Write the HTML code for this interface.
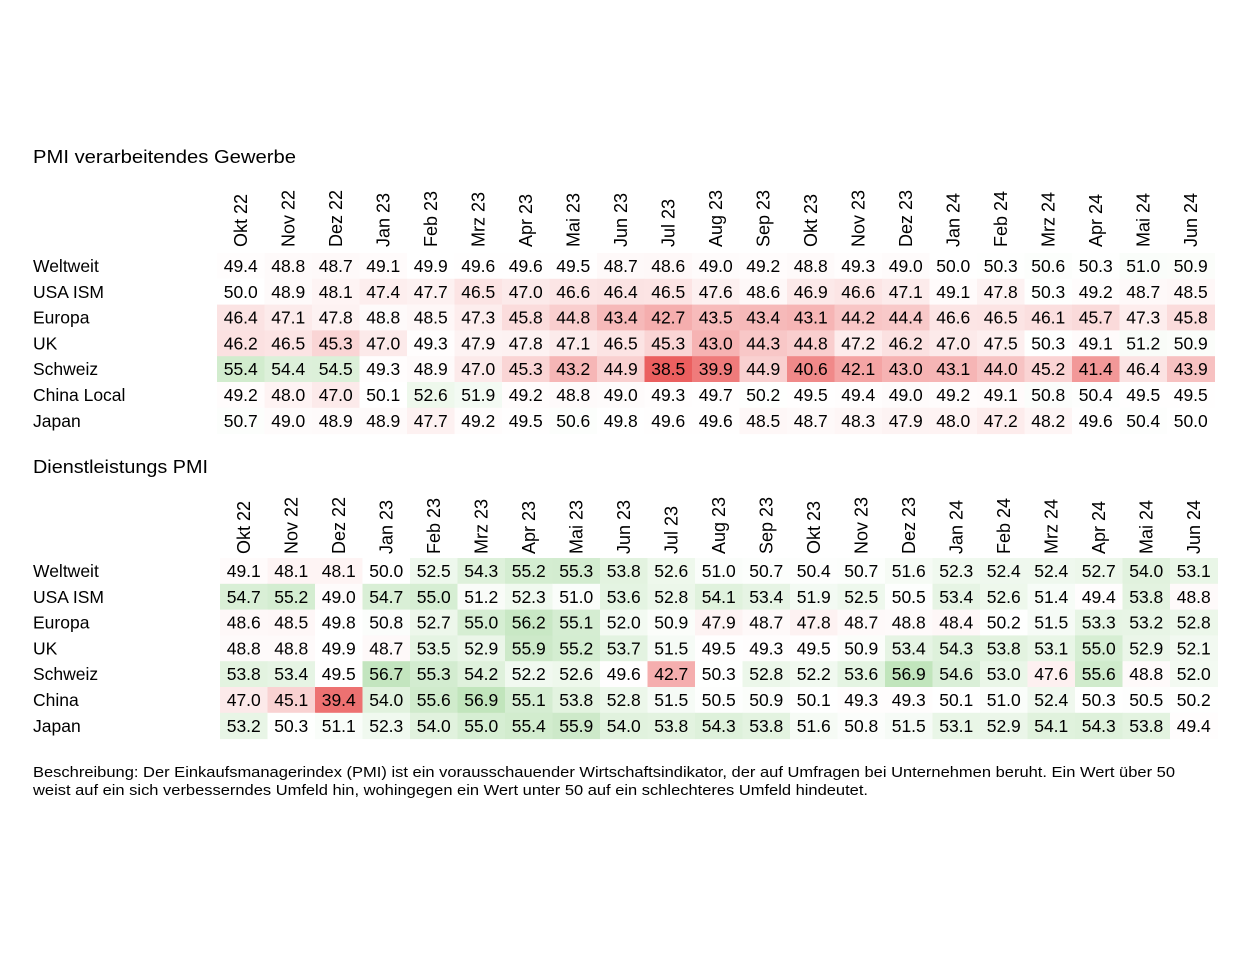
<!DOCTYPE html>
<html><head><meta charset="utf-8"><style>
body{margin:0;background:#fff;width:1249px;height:949px;overflow:hidden;font-family:"Liberation Sans",sans-serif;color:#1a1a1a}
svg text{font-family:"Liberation Sans",sans-serif}
</style></head><body>
<svg id="c" width="1249" height="949"></svg>
<script>
const months=["Okt 22","Nov 22","Dez 22","Jan 23","Feb 23","Mrz 23","Apr 23","Mai 23","Jun 23","Jul 23","Aug 23","Sep 23","Okt 23","Nov 23","Dez 23","Jan 24","Feb 24","Mrz 24","Apr 24","Mai 24","Jun 24"];
const mfgRegions=["Weltweit","USA ISM","Europa","UK","Schweiz","China Local","Japan"];
const mfgWeltweit=[49.4,48.8,48.7,49.1,49.9,49.6,49.6,49.5,48.7,48.6,49.0,49.2,48.8,49.3,49.0,50.0,50.3,50.6,50.3,51.0,50.9];
const mfgUSA=[50.0,48.9,48.1,47.4,47.7,46.5,47.0,46.6,46.4,46.5,47.6,48.6,46.9,46.6,47.1,49.1,47.8,50.3,49.2,48.7,48.5];
const mfgEuropa=[46.4,47.1,47.8,48.8,48.5,47.3,45.8,44.8,43.4,42.7,43.5,43.4,43.1,44.2,44.4,46.6,46.5,46.1,45.7,47.3,45.8];
const mfgUK=[46.2,46.5,45.3,47.0,49.3,47.9,47.8,47.1,46.5,45.3,43.0,44.3,44.8,47.2,46.2,47.0,47.5,50.3,49.1,51.2,50.9];
const mfgSchweiz=[55.4,54.4,54.5,49.3,48.9,47.0,45.3,43.2,44.9,38.5,39.9,44.9,40.6,42.1,43.0,43.1,44.0,45.2,41.4,46.4,43.9];
const mfgChina=[49.2,48.0,47.0,50.1,52.6,51.9,49.2,48.8,49.0,49.3,49.7,50.2,49.5,49.4,49.0,49.2,49.1,50.8,50.4,49.5,49.5];
const mfgJapan=[50.7,49.0,48.9,48.9,47.7,49.2,49.5,50.6,49.8,49.6,49.6,48.5,48.7,48.3,47.9,48.0,47.2,48.2,49.6,50.4,50.0];
const svcRegions=["Weltweit","USA ISM","Europa","UK","Schweiz","China","Japan"];
const svcWeltweit=[49.1,48.1,48.1,50.0,52.5,54.3,55.2,55.3,53.8,52.6,51.0,50.7,50.4,50.7,51.6,52.3,52.4,52.4,52.7,54.0,53.1];
const svcUSA=[54.7,55.2,49.0,54.7,55.0,51.2,52.3,51.0,53.6,52.8,54.1,53.4,51.9,52.5,50.5,53.4,52.6,51.4,49.4,53.8,48.8];
const svcEuropa=[48.6,48.5,49.8,50.8,52.7,55.0,56.2,55.1,52.0,50.9,47.9,48.7,47.8,48.7,48.8,48.4,50.2,51.5,53.3,53.2,52.8];
const svcUK=[48.8,48.8,49.9,48.7,53.5,52.9,55.9,55.2,53.7,51.5,49.5,49.3,49.5,50.9,53.4,54.3,53.8,53.1,55.0,52.9,52.1];
const svcSchweiz=[53.8,53.4,49.5,56.7,55.3,54.2,52.2,52.6,49.6,42.7,50.3,52.8,52.2,53.6,56.9,54.6,53.0,47.6,55.6,48.8,52.0];
const svcChina=[47.0,45.1,39.4,54.0,55.6,56.9,55.1,53.8,52.8,51.5,50.5,50.9,50.1,49.3,49.3,50.1,51.0,52.4,50.3,50.5,50.2];
const svcJapan=[53.2,50.3,51.1,52.3,54.0,55.0,55.4,55.9,54.0,53.8,54.3,53.8,51.6,50.8,51.5,53.1,52.9,54.1,54.3,53.8,49.4];
const mfgData=[mfgWeltweit,mfgUSA,mfgEuropa,mfgUK,mfgSchweiz,mfgChina,mfgJapan];
const svcData=[svcWeltweit,svcUSA,svcEuropa,svcUK,svcSchweiz,svcChina,svcJapan];

const NS="http://www.w3.org/2000/svg";
const svg=document.getElementById('c');
function el(t,a,txt){const e=document.createElementNS(NS,t);for(const k in a)e.setAttribute(k,a[k]);if(txt!==undefined)e.textContent=txt;svg.appendChild(e);return e;}
function color(v){
  if(v<50){const t=Math.pow(Math.min(1,(50-v)/11.5),1.5);return `rgb(${Math.round(255-t*20)},${Math.round(255-t*160)},${Math.round(255-t*160)})`;}
  const t=Math.pow(Math.min(1,(v-50)/7),1.3);return `rgb(${Math.round(255-t*63)},${Math.round(255-t*27)},${Math.round(255-t*68)})`;
}
const CW=47.5,RH=25.8;
function table(title,titleY,titleW,regions,data,x0,hdrBottom,y0,key){
  const t=el('text',{x:33,y:titleY,'font-size':18,textLength:titleW,lengthAdjust:'spacingAndGlyphs'});t.textContent=title;
  
  
  months.forEach((m,i)=>{
    const cx=x0+CW*i+CW/2+6;
    const h=el('text',{x:0,y:0,'font-size':18,transform:`translate(${cx},${hdrBottom}) rotate(-90)`},m);
    
    
  });
  regions.forEach((r,j)=>{
    const y=y0+RH*j;
    const l=el('text',{x:33,y:y+19,'font-size':17.5},r);
    
    
    data[j].forEach((v,i)=>{
      const x=x0+CW*i;
      const rc=el('rect',{x:x,y:y,width:CW+0.5,height:RH+0.5,fill:color(v)});
      
      
      const tx=el('text',{x:x+CW/2,y:y+19,'font-size':17.5,'text-anchor':'middle'},v.toFixed(1));
      
      
    });
  });
}
table("PMI verarbeitendes Gewerbe",163,263,mfgRegions,mfgData,217,247,253,'manufacturing');
table("Dienstleistungs PMI",473,175,svcRegions,svcData,220,554,558,'services');
const d1=el('text',{x:33,y:777,'font-size':15,textLength:1142,lengthAdjust:'spacingAndGlyphs'},"Beschreibung: Der Einkaufsmanagerindex (PMI) ist ein vorausschauender Wirtschaftsindikator, der auf Umfragen bei Unternehmen beruht. Ein Wert über 50");


const d2=el('text',{x:33,y:795,'font-size':15,textLength:835,lengthAdjust:'spacingAndGlyphs'},"weist auf ein sich verbesserndes Umfeld hin, wohingegen ein Wert unter 50 auf ein schlechteres Umfeld hindeutet.");


</script>
</body></html>
